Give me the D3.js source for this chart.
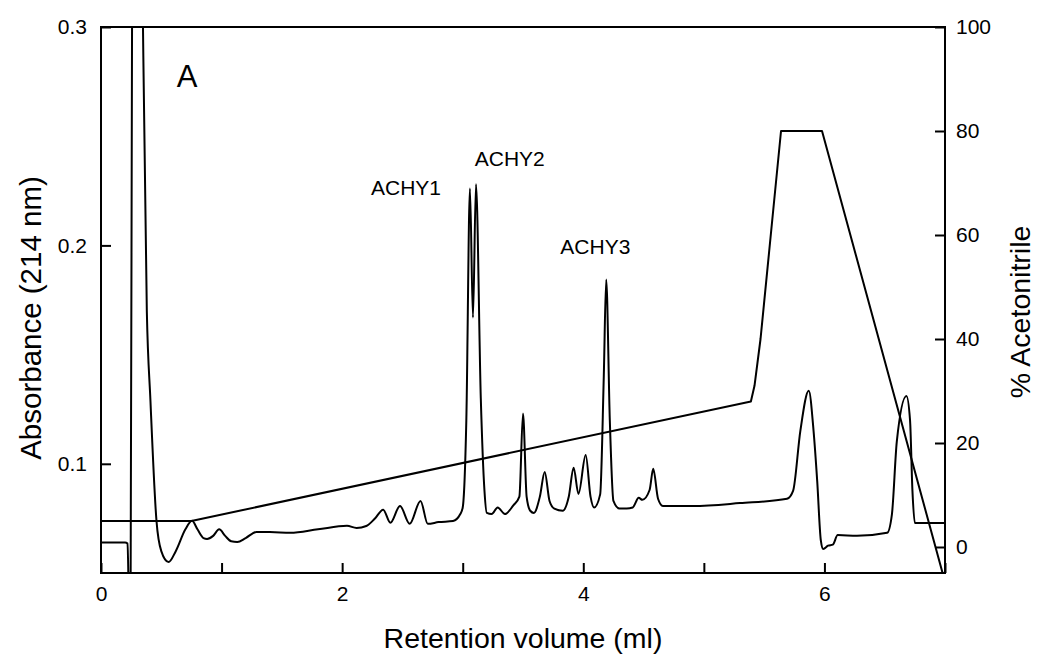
<!DOCTYPE html>
<html>
<head>
<meta charset="utf-8">
<script src="https://cdn.jsdelivr.net/npm/d3@7"></script>
<style>
  html, body { margin: 0; padding: 0; background: #fff; }
  svg { display: block; font-family: "Liberation Sans", Arial, Helvetica, sans-serif; }
</style>
</head>
<body>
<svg id="chart" width="1042" height="658"></svg>
<script>
// ---------------- data ----------------
// Chromatogram (absorbance at 214 nm) vs retention volume (ml)
const volume = [0, 0.2, 0.22, 0.235, 0.245, 0.26, 0.3, 0.335, 0.38, 0.41, 0.46, 0.5, 0.56, 0.62, 0.7, 0.755, 0.8, 0.85, 0.88, 0.93, 0.98, 1.03, 1.08, 1.13, 1.2, 1.29, 1.4, 1.57, 1.8, 2.04, 2.12, 2.2, 2.27, 2.34, 2.4, 2.48, 2.56, 2.65, 2.71, 2.8, 2.92, 2.98, 3.0, 3.03, 3.06, 3.085, 3.11, 3.15, 3.18, 3.2, 3.24, 3.29, 3.35, 3.42, 3.47, 3.5, 3.53, 3.56, 3.59, 3.64, 3.68, 3.72, 3.76, 3.83, 3.88, 3.92, 3.96, 4.02, 4.06, 4.09, 4.14, 4.17, 4.19, 4.22, 4.25, 4.3, 4.36, 4.41, 4.46, 4.49, 4.55, 4.58, 4.62, 4.66, 4.91, 5.3, 5.69, 5.74, 5.8, 5.87, 5.91, 5.94, 5.97, 5.99, 6.03, 6.07, 6.11, 6.27, 6.52, 6.56, 6.6, 6.68, 6.71, 6.73, 6.75, 7.0];
const absorbance = [0.064, 0.064, 0.0635, 0.03, 0.03, 0.36, 0.5, 0.36, 0.17, 0.129, 0.074, 0.06, 0.055, 0.06, 0.07, 0.0739, 0.07, 0.066, 0.0656, 0.067, 0.070, 0.067, 0.0645, 0.0642, 0.066, 0.0688, 0.0688, 0.0684, 0.070, 0.0716, 0.0706, 0.0715, 0.0748, 0.079, 0.073, 0.0807, 0.0725, 0.083, 0.0725, 0.0733, 0.0738, 0.077, 0.080, 0.12, 0.226, 0.167, 0.228, 0.13, 0.088, 0.0775, 0.077, 0.080, 0.077, 0.081, 0.085, 0.123, 0.085, 0.0785, 0.0775, 0.085, 0.0963, 0.083, 0.0795, 0.0785, 0.085, 0.0982, 0.0862, 0.104, 0.085, 0.080, 0.086, 0.14, 0.1844, 0.12, 0.083, 0.0795, 0.0795, 0.080, 0.0844, 0.0835, 0.088, 0.0977, 0.084, 0.0807, 0.0807, 0.082, 0.084, 0.0876, 0.115, 0.1335, 0.115, 0.0922, 0.065, 0.061, 0.0625, 0.063, 0.0674, 0.067, 0.0684, 0.077, 0.11, 0.131, 0.12, 0.0876, 0.0729, 0.0729];

// Acetonitrile gradient (%) vs retention volume (ml)
const gradVolume = [0, 0.75, 5.39, 5.42, 5.47, 5.64, 5.98, 6.98];
const gradPercent = [5, 5, 28, 31, 40, 80, 80, -5];

// Peak labels
const peakNames = ["ACHY1", "ACHY2", "ACHY3"];
const peakLabelX = [2.53, 3.39, 4.1];
const peakLabelY = [0.2229, 0.2362, 0.1959];

// Axis ticks
const xTicks = [0, 1, 2, 3, 4, 5, 6, 7];
const xTickLabels = ["0", "", "2", "", "4", "", "6", ""];
const yLeftTicks = [0.1, 0.2, 0.3];
const yRightTicks = [0, 20, 40, 60, 80, 100];

// ---------------- layout ----------------
const svg = d3.select("#chart");
const L = 101, R = 945, T = 27, B = 573;

const x = d3.scaleLinear().domain([0, 7]).range([L, R]);
const yL = d3.scaleLinear().domain([0.05, 0.3]).range([B, T]);
const yR = d3.scaleLinear().domain([-5, 100]).range([B, T]);

svg.append("defs").append("clipPath").attr("id", "plotclip")
  .append("rect").attr("x", L).attr("y", T).attr("width", R - L).attr("height", B - T);

// data lines
const chrom = volume.map((v, i) => [v, absorbance[i]]);
const grad = gradVolume.map((v, i) => [v, gradPercent[i]]);

const plot = svg.append("g").attr("clip-path", "url(#plotclip)");
plot.append("path")
  .datum(chrom)
  .attr("fill", "none").attr("stroke", "#000").attr("stroke-width", 2)
  .attr("stroke-linejoin", "round")
  .attr("d", d3.line().x(d => x(d[0])).y(d => yL(d[1])).curve(d3.curveMonotoneX));

plot.append("path")
  .datum(grad)
  .attr("fill", "none").attr("stroke", "#000").attr("stroke-width", 2)
  .attr("stroke-linejoin", "round")
  .attr("d", d3.line().x(d => x(d[0])).y(d => yR(d[1])));

// frame
svg.append("rect").attr("x", L).attr("y", T).attr("width", R - L).attr("height", B - T)
  .attr("fill", "none").attr("stroke", "#000").attr("stroke-width", 2);

// axes
const fs = 21;
const gx = svg.append("g").attr("transform", `translate(0,${B})`)
  .call(d3.axisBottom(x).tickValues(xTicks).tickSizeInner(-10).tickSizeOuter(0).tickPadding(13)
    .tickFormat((d, i) => xTickLabels[i]));
const gl = svg.append("g").attr("transform", `translate(${L},0)`)
  .call(d3.axisLeft(yL).tickValues(yLeftTicks).tickSizeInner(-10).tickSizeOuter(0).tickPadding(14)
    .tickFormat(d3.format(".1f")));
const gr = svg.append("g").attr("transform", `translate(${R},0)`)
  .call(d3.axisRight(yR).tickValues(yRightTicks).tickSizeInner(-10).tickSizeOuter(0).tickPadding(11)
    .tickFormat(d3.format("d")));

[gx, gl, gr].forEach(g => {
  g.select(".domain").remove();
  g.selectAll(".tick line").attr("stroke", "#000").attr("stroke-width", 2);
  g.selectAll(".tick text").attr("fill", "#000").style("font-size", fs + "px")
    .style("font-family", '"Liberation Sans", Arial, sans-serif');
});

// axis titles
svg.append("text")
  .attr("x", (L + R) / 2).attr("y", 648)
  .attr("text-anchor", "middle").style("font-size", "28.5px").text("Retention volume (ml)");
svg.append("text")
  .attr("transform", `translate(41,${(T + B) / 2 + 18}) rotate(-90)`)
  .attr("text-anchor", "middle").style("font-size", "29.5px").text("Absorbance (214 nm)");
svg.append("text")
  .attr("transform", `translate(1030,${(T + B) / 2 + 12}) rotate(-90)`)
  .attr("text-anchor", "middle").style("font-size", "28.5px").text("% Acetonitrile");

// panel letter
svg.append("text").attr("x", x(0.714)).attr("y", yL(0.2725))
  .attr("text-anchor", "middle").style("font-size", "31px").text("A");

// peak labels
svg.selectAll("text.peak").data(peakNames).enter().append("text")
  .attr("class", "peak")
  .attr("x", (d, i) => x(peakLabelX[i]))
  .attr("y", (d, i) => yL(peakLabelY[i]))
  .attr("text-anchor", "middle").style("font-size", "21px")
  .text(d => d);
</script>
</body>
</html>
